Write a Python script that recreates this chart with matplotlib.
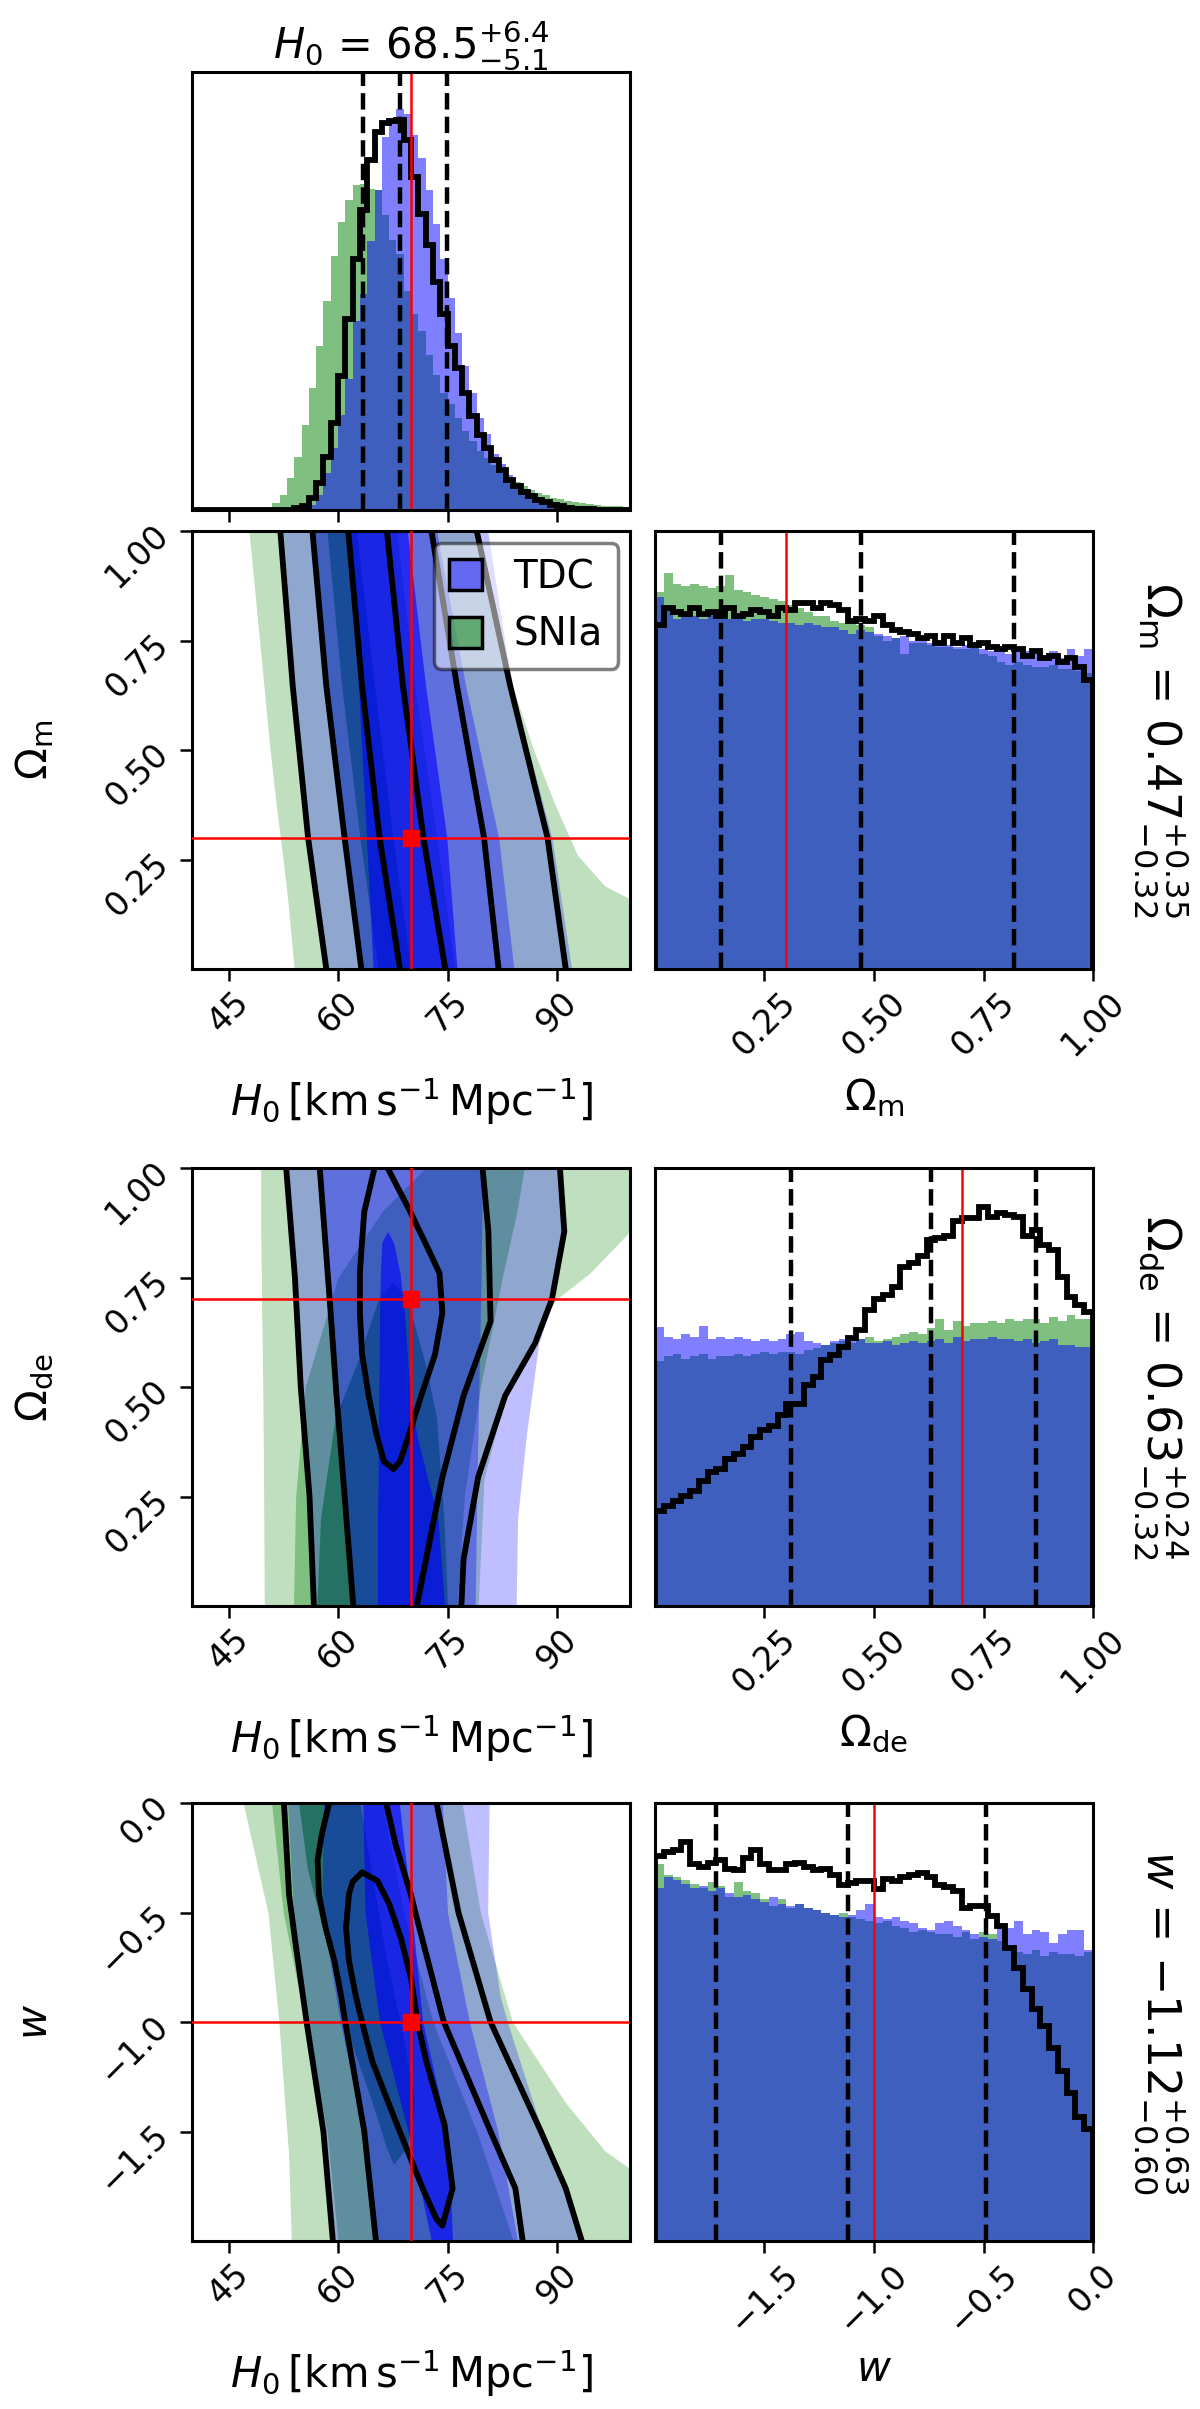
import numpy as np
import matplotlib
matplotlib.use("Agg")
import matplotlib.pyplot as plt
from matplotlib.patches import Patch

plt.rcParams['font.family'] = ['DejaVu Sans']
plt.rcParams['mathtext.fontset'] = 'dejavusans'

# ======================= DATA =======================
# --- 1D marginals: heights in % of panel height ---
H0_EDGES = np.linspace(40, 100, 61)
H0_SNIA = [0, 0, 0, 0, 0, 0, 0, 0, 0, 0,
           0.4, 1.5, 3.4, 7.3, 12.2, 19.5, 27.9, 37.5, 47.8, 58.1,
           65.8, 70.7, 74.1, 74.5, 73.4, 73.0, 67.3, 61.6, 58.5, 50.1,
           44.7, 40.9, 35.5, 30.9, 26.8, 24.1, 21.1, 18.0, 15.7, 13.4,
           11.9, 10.3, 8.8, 7.6, 6.5, 5.4, 4.6, 3.8, 3.4, 2.8,
           2.4, 2.0, 1.8, 1.5, 1.3, 1.1, 1.0, 0.9, 0.8, 0.7]
H0_TDC = [0, 0, 0, 0, 0, 0, 0, 0, 0, 0,
          0, 0, 0, 0, 0, 0.4, 1.1, 3.4, 8.4, 14.1,
          21.7, 29.8, 43.2, 49.3, 61.5, 73.0, 85.2, 89.5, 91.5, 90.5,
          85.6, 80.3, 73.0, 65.4, 57.3, 48.5, 40.5, 32.9, 26.8, 21.1,
          17.3, 12.7, 10.4, 8.0, 6.0, 4.8, 3.8, 3.0, 2.4, 1.9,
          1.5, 1.2, 1.0, 0.8, 0.6, 0.5, 0.4, 0.3, 0.2, 0.2]
H0_ALL = [0, 0, 0, 0, 0, 0, 0, 0, 0, 0,
          0, 0, 0, 0, 0.4, 0.8, 2.7, 6.1, 12.2, 19.9,
          30.6, 43.6, 57.3, 68.4, 79.9, 86.4, 88.3, 88.7, 89.1, 84.5,
          76.1, 67.6, 60.4, 52.0, 44.7, 37.5, 32.5, 26.8, 21.4, 17.2,
          14.1, 11.5, 9.2, 6.9, 5.4, 4.2, 3.1, 2.3, 1.8, 1.1,
          0.8, 0.4, 0.3, 0.2, 0.2, 0.1, 0.1, 0.1, 0.1, 0.1]

OM_EDGES = np.linspace(0.0, 1.0, 51)
OM_SNIA = [86, 90.5, 88, 87.5, 88, 87.5, 87, 87.5, 90, 86.5,
           86, 85.5, 85, 84.5, 84, 83, 82.5, 81.5, 80.5, 80.5,
           79.5, 79, 79.5, 78.5, 78, 76, 75, 75.5, 72, 74.5,
           74.5, 74, 73.5, 73.5, 73, 73, 73.5, 72, 71.5, 70,
           69.5, 70, 69.5, 69, 69, 69.5, 68.5, 68.5, 68, 67.5]
OM_TDC = [85, 82, 80, 81, 80.5, 80, 81, 80, 80, 80,
          79.5, 80, 80, 79.5, 79, 79, 78.5, 79, 78.5, 78,
          78, 77.5, 76.5, 77.5, 77, 76.5, 76, 75.5, 76, 75,
          75.5, 74.5, 75, 74, 73.5, 74, 74.5, 73, 72.5, 73.5,
          72, 73, 72.5, 72, 71.5, 72.5, 71, 73, 71.5, 73]
OM_ALL = [78.5, 82.5, 81.5, 81, 82.5, 81, 81.5, 80.5, 82.5, 80.5,
          81, 82, 81.5, 80.5, 82.5, 82, 83.5, 83.5, 82.5, 83.5,
          83, 82, 79.5, 80, 79.5, 80.5, 78.5, 77.5, 77, 76.5,
          75.5, 76, 74.5, 76, 74.5, 75.5, 74, 74.5, 73.5, 73,
          73.5, 73, 71.5, 72.5, 71, 71.5, 70, 71, 69, 66]

DE_EDGES = np.linspace(0.0, 1.0, 51)
DE_SNIA = [56, 57, 57.5, 56.5, 57, 57.5, 56.5, 57, 57, 57.5,
           57, 57.5, 58, 57.5, 58, 58, 57.5, 58.5, 59, 59.5,
           60, 60.5, 60, 61, 61.5, 60.5, 61, 61.5, 62, 62.5,
           62, 63.5, 65.5, 63, 65, 64, 64.5, 64.5, 65, 64.5,
           65.5, 65, 65.5, 65.5, 64.5, 66, 65, 66.5, 65.5, 65.5]
DE_TDC = [63.7, 61.5, 61, 62, 61.5, 64, 61, 61.5, 61, 61.5,
          61, 60.5, 61, 60.5, 61, 62, 62.5, 60.5, 60, 59.5,
          60.5, 61, 61.5, 61, 60, 60, 60.5, 59.5, 60, 60.5,
          60, 60.5, 61, 60, 61.5, 60.5, 61, 61, 61.5, 61,
          61, 60.5, 61, 60, 60.5, 61, 59.5, 59.5, 59.2, 59.2]
DE_ALL = [21.8, 22.9, 24.0, 25.2, 26.3, 28.6, 30.5, 31.3, 33.6, 34.7,
          36.2, 38.5, 40.1, 41.2, 43.5, 46.2, 46.2, 50.4, 52.3, 56.1,
          57.3, 59.2, 61.1, 63.0, 67.6, 70.2, 71.0, 72.9, 77.5, 78.3,
          79.8, 83.6, 84.0, 84.4, 88.0, 88.5, 88.5, 91.2, 88.9, 89.7,
          89.3, 88.9, 84.4, 85.9, 82.4, 81.3, 75.2, 70.6, 68.7, 67.2]

W_EDGES = np.linspace(-2.0, 0.0, 51)
W_SNIA = [86.0, 83.5, 83.0, 82.5, 81.5, 80.5, 82.0, 81.0, 78.5, 82.0,
          80.0, 79.5, 78.0, 76.5, 78.0, 76.0, 77.0, 76.0, 75.5, 75.0,
          74.5, 75.0, 74.0, 73.5, 73.0, 72.5, 73.0, 72.0, 71.5, 70.5,
          71.0, 70.5, 70.0, 70.0, 69.5, 70.5, 69.0, 70.5, 70.0, 68.5,
          66.5, 66.0, 65.5, 66.5, 65.0, 66.0, 65.5, 65.5, 65.0, 66.0]
W_TDC = [80.5, 83.0, 82.5, 81.5, 80.5, 81.0, 80.0, 80.5, 79.5, 78.5,
         79.0, 78.0, 77.5, 78.5, 77.0, 76.5, 77.0, 76.0, 75.5, 75.0,
         74.5, 74.0, 74.5, 75.5, 77.0, 74.0, 73.5, 74.0, 73.0, 72.5,
         71.5, 71.0, 72.5, 73.0, 72.0, 71.0, 70.0, 69.5, 69.0, 72.5,
         71.5, 73.0, 70.0, 71.0, 70.5, 68.0, 70.0, 71.0, 71.0, 66.5]
W_ALL = [87.9, 88.8, 89.3, 91.2, 86.0, 85.5, 86.4, 86.9, 85.0, 84.6,
         87.5, 89.3, 86.0, 84.6, 84.6, 86.0, 86.4, 85.5, 84.6, 85.0,
         83.6, 81.3, 81.7, 82.2, 82.2, 80.3, 82.7, 82.2, 83.0, 83.6,
         84.0, 83.0, 81.3, 80.8, 79.8, 76.1, 76.5, 76.5, 74.2, 72.0,
         67.0, 62.4, 57.5, 52.9, 49.1, 44.0, 38.8, 33.8, 28.4, 25.5]

# --- quantiles (16/50/84) and true values ---
H0_Q = [63.4, 68.5, 74.9]
OM_Q = [0.15, 0.47, 0.82]
DE_Q = [0.31, 0.63, 0.87]
W_Q = [-1.72, -1.12, -0.49]
TRUTH_H0, TRUTH_OM, TRUTH_DE, TRUTH_W = 70.0, 0.3, 0.7, -1.0

H0_TITLE = r"$H_0$ = ${68.5}_{-5.1}^{+6.4}$"
OM_TITLE = r"$\Omega_{\rm m}$ = ${0.47}_{-0.32}^{+0.35}$"
DE_TITLE = r"$\Omega_{\rm de}$ = ${0.63}_{-0.32}^{+0.24}$"
W_TITLE = r"$w$ = ${-1.12}_{-0.60}^{+0.63}$"

H0_TICKS = [45, 60, 75, 90]
H0_TICKLABELS = ["45", "60", "75", "90"]
OMEGA_TICKS = [0.25, 0.50, 0.75, 1.00]
OMEGA_TICKLABELS = ["0.25", "0.50", "0.75", "1.00"]
W_TICKS = [-1.5, -1.0, -0.5, 0.0]
W_TICKLABELS = ["\u22121.5", "\u22121.0", "\u22120.5", "0.0"]

H0_LABEL = r"$H_0\,[\mathrm{km\,s^{-1}\,Mpc^{-1}}]$"
OM_LABEL = r"$\Omega_{\rm m}$"
DE_LABEL = r"$\Omega_{\rm de}$"
W_LABEL = r"$w$"
LEGEND_LABELS = ["TDC", "SNIa"]

# --- 2D credible regions: H0 boundaries (left/right) at sampled y values ---
# H0-Omega_m
OM_SNIA_OUT_Y = [0.0, 0.16, 0.19, 0.26, 0.38, 0.5, 0.69, 1.0]
OM_SNIA_OUT_L = [54.0, 53.1, 52.9, 52.4, 51.5, 50.7, 49.6, 47.8]
OM_SNIA_OUT_R = [110.0, 100.0, 96.5, 92.8, 89.6, 86.8, 83.0, 78.5]
OM_Y = [0.0, 0.3, 0.646, 1.0]
OM_SNIA_MID_L = [63.0, 60.7, 58.3, 56.3]
OM_SNIA_MID_R = [76.0, 73.5, 70.5, 68.0]
OM_SNIA_IN_L = [65.5, 63.0, 60.5, 58.5]
OM_SNIA_IN_R = [70.0, 67.5, 65.0, 62.5]
OM_TDC_OUT_L = [58.6, 56.1, 54.0, 52.5]
OM_TDC_OUT_R = [92.0, 89.3, 83.8, 80.5]
OM_TDC_MID_L = [63.0, 60.7, 58.3, 56.3]
OM_TDC_MID_R = [84.1, 82.0, 77.5, 73.5]
OM_TDC_IN_L = [64.8, 63.9, 62.8, 61.6]
OM_TDC_IN_R = [76.3, 74.9, 72.0, 69.5]
OM_ALL_L3 = [58.4, 55.9, 53.8, 52.1]
OM_ALL_L2 = [63.2, 60.9, 58.4, 56.5]
OM_ALL_L1 = [68.5, 65.7, 63.3, 61.4]
OM_ALL_R1 = [74.7, 71.7, 68.9, 66.7]
OM_ALL_R2 = [82.0, 80.0, 76.3, 72.8]
OM_ALL_R3 = [91.2, 88.7, 83.6, 79.0]

# H0-Omega_de
DE_SNIA_OUT_Y = [0.0, 0.29, 0.48, 0.62, 0.70, 0.76, 0.855, 1.0]
DE_SNIA_OUT_L = [49.9, 49.8, 49.7, 49.6, 49.5, 49.5, 49.4, 49.4]
DE_SNIA_OUT_R = [79.2, 80.0, 82.9, 87.0, 89.9, 94.5, 100.0, 106.0]
DE_SNIA_MID_Y = [0.0, 0.25, 0.5, 0.75, 0.9, 1.0]
DE_SNIA_MID_L = [53.9, 54.2, 55.5, 60.0, 66.0, 72.0]
DE_SNIA_MID_R = [76.3, 77.3, 79.5, 82.5, 84.5, 85.5]
DE_SNIA_IN_Y = [0.0, 0.2, 0.43, 0.55, 0.7, 0.74]
DE_SNIA_IN_L = [57.1, 57.6, 59.6, 62.5, 65.5, 67.5]
DE_SNIA_IN_R = [75.0, 74.5, 73.5, 72.0, 69.5, 67.5]
DE_TDC_OUT_Y = [0.0, 0.2, 0.39, 0.6, 0.7, 0.85, 1.0]
DE_TDC_OUT_L = [57.0, 56.3, 55.6, 54.4, 54.0, 53.5, 52.9]
DE_TDC_OUT_R = [84.4, 84.6, 85.8, 87.5, 89.5, 91.2, 90.6]
DE_TDC_MID_Y = [0.0, 0.25, 0.5, 0.75, 1.0]
DE_TDC_MID_L = [62.0, 60.8, 59.6, 58.7, 57.6]
DE_TDC_MID_R = [78.8, 79.0, 79.3, 79.6, 79.8]
DE_TDC_IN_Y = [0.0, 0.2, 0.29, 0.39, 0.48, 0.67, 0.76, 0.83, 0.855]
DE_TDC_IN_L = [65.4, 65.4, 65.5, 65.5, 65.6, 65.7, 65.8, 66.0, 66.8]
DE_TDC_IN_R = [74.6, 73.7, 72.3, 70.8, 69.9, 69.1, 68.5, 67.6, 66.8]
DE_ALL_OUT_LY = [0.0, 0.25, 0.5, 0.75, 1.0]
DE_ALL_OUT_L = [56.7, 56.1, 54.9, 54.1, 52.9]
DE_ALL_OUT_RY = [0.0, 0.107, 0.294, 0.48, 0.60, 0.70, 0.855, 1.0]
DE_ALL_OUT_R = [76.9, 77.2, 79.2, 82.9, 87.0, 89.3, 91.0, 90.4]
DE_ALL_MID_LY = [0.0, 0.294, 0.48, 0.668, 1.0]
DE_ALL_MID_L = [62.1, 60.7, 59.8, 59.0, 57.5]
DE_ALL_MID_RY = [0.0, 0.294, 0.48, 0.65, 0.855, 1.0]
DE_ALL_MID_R = [70.8, 74.3, 77.2, 80.9, 80.6, 79.8]
DE_ALL_IN_Y = [0.313, 0.33, 0.39, 0.48, 0.575, 0.67, 0.76, 0.81, 0.90, 1.0]
DE_ALL_IN_L = [67.6, 66.3, 65.3, 64.2, 63.3, 63.0, 63.0, 63.2, 63.6, 65.0]
DE_ALL_IN_R = [67.6, 68.5, 69.7, 71.4, 73.3, 74.3, 73.9, 72.5, 69.9, 66.8]

# H0-w
W_SNIA_OUT_Y = [0.0, -0.5, -1.0, -1.37, -1.59, -1.67, -2.0]
W_SNIA_OUT_L = [47.0, 50.4, 51.9, 52.7, 53.2, 53.3, 53.6]
W_SNIA_OUT_R = [77.0, 79.5, 83.9, 91.2, 96.6, 100.0, 108.0]
W_SNIA_MID_Y = [0.0, -0.5, -1.0, -1.5, -2.0]
W_SNIA_MID_L = [50.9, 52.5, 55.5, 58.5, 60.0]
W_SNIA_MID_R = [66.0, 69.0, 73.0, 79.0, 84.0]
W_SNIA_IN_Y = [0.0, -0.3, -0.69, -1.08, -1.37, -1.57, -1.65]
W_SNIA_IN_L = [54.6, 55.8, 58.8, 61.7, 64.7, 66.6, 67.6]
W_SNIA_IN_R = [63.0, 64.5, 66.5, 69.0, 70.5, 69.5, 67.6]
W_TDC_OUT_Y = [0.0, -0.5, -0.88, -1.0, -1.5, -2.0]
W_TDC_OUT_L = [53.1, 53.9, 55.4, 56.0, 58.3, 59.6]
W_TDC_OUT_R = [80.7, 80.5, 82.2, 83.2, 88.0, 93.6]
W_TDC_MID_Y = [0.0, -0.5, -1.0, -1.5, -2.0]
W_TDC_MID_L = [58.0, 57.8, 60.3, 63.5, 65.5]
W_TDC_MID_R = [74.3, 75.0, 78.0, 81.9, 84.6]
W_TDC_IN_Y = [0.0, -0.5, -1.0, -1.5, -2.0]
W_TDC_IN_L = [63.4, 63.7, 65.7, 69.6, 72.8]
W_TDC_IN_R = [68.4, 70.1, 71.6, 75.0, 75.7]
W_ALL_OUT_LY = [0.0, -0.42, -0.645, -1.0, -1.5, -2.0]
W_ALL_OUT_L = [52.6, 53.3, 54.2, 55.7, 58.0, 59.3]
W_ALL_OUT_RY = [0.0, -0.5, -1.0, -1.5, -1.76, -2.0]
W_ALL_OUT_R = [73.5, 76.5, 80.9, 87.8, 91.2, 93.4]
W_ALL_MID_LY = [0.0, -0.14, -0.26, -0.42, -0.57, -0.72, -0.875, -1.0, -1.5, -2.0]
W_ALL_MID_L = [58.8, 57.8, 57.2, 57.4, 58.3, 59.5, 60.4, 61.0, 63.6, 65.2]
W_ALL_MID_RY = [0.0, -0.19, -0.42, -0.5, -1.0, -1.5, -1.76, -2.0]
W_ALL_MID_R = [66.6, 67.9, 70.0, 70.6, 74.5, 80.9, 84.3, 85.3]
W_ALL_IN_LY = [-0.317, -0.36, -0.416, -0.569, -0.72, -0.875, -1.0, -1.18, -1.47, -1.76, -1.90, -1.93]
W_ALL_IN_L = [63.3, 62.0, 61.5, 61.1, 61.5, 62.4, 63.3, 64.7, 68.1, 71.6, 73.5, 74.3]
W_ALL_IN_RY = [-0.317, -0.355, -0.46, -0.615, -0.80, -1.0, -1.18, -1.47, -1.76, -1.93]
W_ALL_IN_R = [63.3, 65.4, 67.0, 68.6, 70.0, 70.9, 72.1, 74.6, 75.7, 74.3]

# ======================= STYLE / LAYOUT =======================
C_TDC = "blue"
C_SNIA = "green"
LEVEL_ALPHAS = [0.25, 1 / 3, 0.6]   # nested fills -> 0.25 / 0.5 / 0.8
FIG_W, FIG_H = 1200, 2409
PANEL = 438
LEFT_X, RIGHT_X = 192, 655
ROW_TOPS = [72, 531, 1168, 1803]
TICK_FS, LABEL_FS, TITLE_FS, SIDE_FS, LEG_FS = 24, 30, 30, 33, 28
KLW = 4.2

fig = plt.figure(figsize=(FIG_W / 100, FIG_H / 100), dpi=100)


def add_ax(x0, y0):
    return fig.add_axes([x0 / FIG_W, 1 - (y0 + PANEL) / FIG_H,
                         PANEL / FIG_W, PANEL / FIG_H])


def style(ax):
    for s in ax.spines.values():
        s.set_linewidth(2.2)
    ax.tick_params(direction="out", length=8.5, width=1.8, labelsize=TICK_FS)


def hist_panel(ax, edges, snia, tdc, comb, quant, truth):
    ax.stairs(snia, edges, fill=True, color=C_SNIA, alpha=0.5, lw=0)
    ax.stairs(tdc, edges, fill=True, color=C_TDC, alpha=0.5, lw=0)
    ax.stairs(comb, edges, color="k", lw=KLW)
    for q in quant:
        ax.axvline(q, color="k", ls="--", lw=3.2)
    ax.axvline(truth, color="red", lw=1.8)
    ax.set_xlim(edges[0], edges[-1])
    ax.set_ylim(0, 100)
    ax.set_yticks([])
    style(ax)


def fill_levels(ax, color, regions):
    for (y, L, R), a in zip(regions, LEVEL_ALPHAS):
        ax.fill_betweenx(y, L, R, color=color, alpha=a, lw=0)


def kline(ax, x, y):
    ax.plot(x, y, color="k", lw=KLW, solid_joinstyle="round",
            solid_capstyle="round")


def truth_marks(ax, ty):
    ax.axvline(TRUTH_H0, color="red", lw=1.8, zorder=5)
    ax.axhline(ty, color="red", lw=1.8, zorder=5)
    ax.plot([TRUTH_H0], [ty], "s", color="red", ms=12, zorder=6)


def setup_2d(ax, ylim, yticks, yticklabels, ylabel):
    ax.set_xlim(40, 100)
    ax.set_ylim(*ylim)
    ax.set_xticks(H0_TICKS)
    ax.set_xticklabels(H0_TICKLABELS, rotation=45)
    ax.set_yticks(yticks)
    ax.set_yticklabels(yticklabels, rotation=45)
    ax.set_xlabel(H0_LABEL, fontsize=LABEL_FS)
    ax.set_ylabel(ylabel, fontsize=LABEL_FS)
    ax.xaxis.set_label_coords(0.5, -0.245)
    ax.yaxis.set_label_coords(-0.31, 0.5)
    style(ax)


def setup_right(ax, ticks, ticklabels, xlabel, title):
    ax.set_xticks(ticks)
    ax.set_xticklabels(ticklabels, rotation=45)
    ax.set_xlabel(xlabel, fontsize=LABEL_FS)
    ax.xaxis.set_label_coords(0.5, -0.245)
    ax.text(1.155, 0.5, title, transform=ax.transAxes, rotation=270,
            ha="center", va="center", fontsize=SIDE_FS)


# ---- row 1: H0 marginal ----
ax0 = add_ax(LEFT_X, ROW_TOPS[0])
hist_panel(ax0, H0_EDGES, H0_SNIA, H0_TDC, H0_ALL, H0_Q, TRUTH_H0)
ax0.set_xticks(H0_TICKS)
ax0.set_xticklabels([])
ax0.set_title(H0_TITLE, fontsize=TITLE_FS, pad=10)

# ---- row 2: Omega_m ----
ax = add_ax(LEFT_X, ROW_TOPS[1])
fill_levels(ax, C_SNIA, [(OM_SNIA_OUT_Y, OM_SNIA_OUT_L, OM_SNIA_OUT_R),
                         (OM_Y, OM_SNIA_MID_L, OM_SNIA_MID_R),
                         (OM_Y, OM_SNIA_IN_L, OM_SNIA_IN_R)])
fill_levels(ax, C_TDC, [(OM_Y, OM_TDC_OUT_L, OM_TDC_OUT_R),
                        (OM_Y, OM_TDC_MID_L, OM_TDC_MID_R),
                        (OM_Y, OM_TDC_IN_L, OM_TDC_IN_R)])
for xs in (OM_ALL_L3, OM_ALL_L2, OM_ALL_L1, OM_ALL_R1, OM_ALL_R2, OM_ALL_R3):
    kline(ax, xs, OM_Y)
truth_marks(ax, TRUTH_OM)
setup_2d(ax, (0, 1), OMEGA_TICKS, OMEGA_TICKLABELS, OM_LABEL)
handles = [Patch(facecolor=(0, 0, 1, 0.5), edgecolor="k", lw=2.5),
           Patch(facecolor=(0, 0.5, 0, 0.5), edgecolor="k", lw=2.5)]
leg = ax.legend(handles, LEGEND_LABELS, loc="upper right", fontsize=LEG_FS,
                framealpha=0.5, edgecolor="k", handlelength=0.85,
                handleheight=0.85, borderaxespad=0.3, fancybox=True)
leg.get_frame().set_linewidth(2.5)
leg.set_zorder(10)

axr = add_ax(RIGHT_X, ROW_TOPS[1])
hist_panel(axr, OM_EDGES, OM_SNIA, OM_TDC, OM_ALL, OM_Q, TRUTH_OM)
setup_right(axr, OMEGA_TICKS, OMEGA_TICKLABELS, OM_LABEL, OM_TITLE)

# ---- row 3: Omega_de ----
ax = add_ax(LEFT_X, ROW_TOPS[2])
fill_levels(ax, C_SNIA, [(DE_SNIA_OUT_Y, DE_SNIA_OUT_L, DE_SNIA_OUT_R),
                         (DE_SNIA_MID_Y, DE_SNIA_MID_L, DE_SNIA_MID_R),
                         (DE_SNIA_IN_Y, DE_SNIA_IN_L, DE_SNIA_IN_R)])
fill_levels(ax, C_TDC, [(DE_TDC_OUT_Y, DE_TDC_OUT_L, DE_TDC_OUT_R),
                        (DE_TDC_MID_Y, DE_TDC_MID_L, DE_TDC_MID_R),
                        (DE_TDC_IN_Y, DE_TDC_IN_L, DE_TDC_IN_R)])
kline(ax, DE_ALL_OUT_L, DE_ALL_OUT_LY)
kline(ax, DE_ALL_OUT_R, DE_ALL_OUT_RY)
kline(ax, DE_ALL_MID_L, DE_ALL_MID_LY)
kline(ax, DE_ALL_MID_R, DE_ALL_MID_RY)
kline(ax, DE_ALL_IN_L, DE_ALL_IN_Y)
kline(ax, DE_ALL_IN_R, DE_ALL_IN_Y)
truth_marks(ax, TRUTH_DE)
setup_2d(ax, (0, 1), OMEGA_TICKS, OMEGA_TICKLABELS, DE_LABEL)

axr = add_ax(RIGHT_X, ROW_TOPS[2])
hist_panel(axr, DE_EDGES, DE_SNIA, DE_TDC, DE_ALL, DE_Q, TRUTH_DE)
setup_right(axr, OMEGA_TICKS, OMEGA_TICKLABELS, DE_LABEL, DE_TITLE)

# ---- row 4: w ----
ax = add_ax(LEFT_X, ROW_TOPS[3])
fill_levels(ax, C_SNIA, [(W_SNIA_OUT_Y, W_SNIA_OUT_L, W_SNIA_OUT_R),
                         (W_SNIA_MID_Y, W_SNIA_MID_L, W_SNIA_MID_R),
                         (W_SNIA_IN_Y, W_SNIA_IN_L, W_SNIA_IN_R)])
fill_levels(ax, C_TDC, [(W_TDC_OUT_Y, W_TDC_OUT_L, W_TDC_OUT_R),
                        (W_TDC_MID_Y, W_TDC_MID_L, W_TDC_MID_R),
                        (W_TDC_IN_Y, W_TDC_IN_L, W_TDC_IN_R)])
kline(ax, W_ALL_OUT_L, W_ALL_OUT_LY)
kline(ax, W_ALL_OUT_R, W_ALL_OUT_RY)
kline(ax, W_ALL_MID_L, W_ALL_MID_LY)
kline(ax, W_ALL_MID_R, W_ALL_MID_RY)
kline(ax, np.r_[W_ALL_IN_L, W_ALL_IN_R[::-1]],
      np.r_[W_ALL_IN_LY, W_ALL_IN_RY[::-1]])
truth_marks(ax, TRUTH_W)
setup_2d(ax, (-2, 0), W_TICKS, W_TICKLABELS, W_LABEL)

axr = add_ax(RIGHT_X, ROW_TOPS[3])
hist_panel(axr, W_EDGES, W_SNIA, W_TDC, W_ALL, W_Q, TRUTH_W)
setup_right(axr, W_TICKS, W_TICKLABELS, W_LABEL, W_TITLE)

fig.savefig("out.png", dpi=100)
